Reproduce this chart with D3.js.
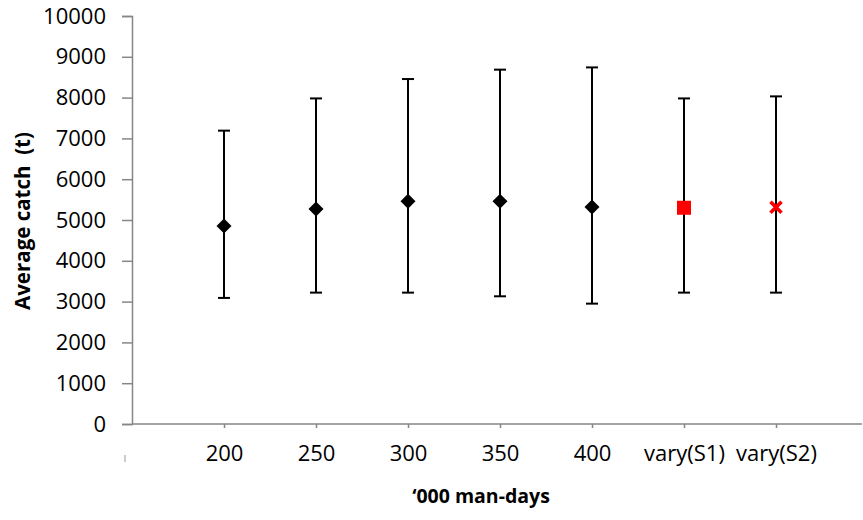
<!DOCTYPE html>
<html>
<head>
<meta charset="utf-8">
<script src="https://cdn.jsdelivr.net/npm/d3@7"></script>
<style>
  body { margin: 0; background: #fff; }
  text { font-family: "Open Sans", "Liberation Sans", sans-serif; }
</style>
</head>
<body>
<svg id="chart" width="863" height="520"></svg>
<script>
// categories along x (first slot is an empty category at the axis)
const categories = ['', '200', '250', '300', '350', '400', 'vary(S1)', 'vary(S2)'];
// average catch and its range, per category (null where empty)
const means = [null, 4850, 5270, 5460, 5460, 5320, 5300, 5310];
const lows  = [null, 3090, 3220, 3220, 3130, 2950, 3220, 3220];
const highs = [null, 7190, 7980, 8455, 8685, 8740, 7980, 8030];
const markers = [null, 'diamond', 'diamond', 'diamond', 'diamond', 'diamond', 'square', 'cross'];
const yTicks = [0, 1000, 2000, 3000, 4000, 5000, 6000, 7000, 8000, 9000, 10000];

const svg = d3.select('#chart');
const margin = {left: 132, top: 16, right: 1, bottom: 96};
const W = 863, H = 520;

const x = d3.scalePoint()
  .domain(categories.map((d, i) => i))
  .range([margin.left, margin.left + 92 * (categories.length - 1)]);
const y = d3.scaleLinear().domain([0, 10000]).range([H - margin.bottom, margin.top]);

const axisColor = '#868686';

// y axis
const yAxis = svg.append('g')
  .attr('transform', `translate(${margin.left},0)`)
  .call(d3.axisLeft(y).tickValues(yTicks).tickSize(10).tickPadding(16).tickFormat(d3.format('d')));
yAxis.select('.domain').attr('stroke', axisColor).attr('stroke-width', 1.5);
yAxis.selectAll('.tick line').attr('stroke', axisColor).attr('stroke-width', 1.5);
yAxis.selectAll('.tick text').attr('font-size', 22).attr('fill', '#000');

// x axis
const xAxis = svg.append('g')
  .attr('transform', `translate(0,${y(0)})`)
  .call(d3.axisBottom(x).tickSize(4).tickSizeOuter(0).tickPadding(17).tickFormat(i => categories[i]));
xAxis.select('.domain').attr('stroke', axisColor).attr('stroke-width', 1.5)
  .attr('d', `M${margin.left},0H${W - 1}`);
xAxis.selectAll('.tick line').attr('stroke', axisColor).attr('stroke-width', 1.5);
xAxis.selectAll('.tick text').attr('font-size', 22).attr('fill', '#000');
// the empty first category leaves only a faint stub
xAxis.selectAll('.tick').filter(i => i === 0).select('line').remove();
svg.append('line')
  .attr('x1', margin.left - 7).attr('x2', margin.left - 7)
  .attr('y1', y(0) + 31).attr('y2', y(0) + 38)
  .attr('stroke', '#bbb').attr('stroke-width', 1.5);

const pts = categories.map((c, i) => ({i, mean: means[i], lo: lows[i], hi: highs[i], m: markers[i]}))
  .filter(d => d.mean != null);

// error bars
const bars = svg.append('g').attr('stroke', '#000').attr('stroke-width', 2);
bars.selectAll('line.v').data(pts).join('line')
  .attr('x1', d => x(d.i)).attr('x2', d => x(d.i))
  .attr('y1', d => y(d.lo)).attr('y2', d => y(d.hi));
bars.selectAll('line.lo').data(pts).join('line')
  .attr('x1', d => x(d.i) - 6).attr('x2', d => x(d.i) + 6)
  .attr('y1', d => y(d.lo)).attr('y2', d => y(d.lo));
bars.selectAll('line.hi').data(pts).join('line')
  .attr('x1', d => x(d.i) - 6).attr('x2', d => x(d.i) + 6)
  .attr('y1', d => y(d.hi)).attr('y2', d => y(d.hi));

// markers
const mk = svg.append('g');
mk.selectAll('path.dia').data(pts.filter(d => d.m === 'diamond')).join('path')
  .attr('d', d => { const cx = x(d.i), cy = y(d.mean), r = 7.5;
    return `M${cx},${cy - r}L${cx + r},${cy}L${cx},${cy + r}L${cx - r},${cy}Z`; })
  .attr('fill', '#000');
mk.selectAll('rect').data(pts.filter(d => d.m === 'square')).join('rect')
  .attr('x', d => x(d.i) - 7).attr('y', d => y(d.mean) - 7)
  .attr('width', 14).attr('height', 14).attr('fill', '#ff0000');
mk.selectAll('path.x').data(pts.filter(d => d.m === 'cross')).join('path')
  .attr('d', d => { const cx = x(d.i), cy = y(d.mean), r = 5.5;
    return `M${cx - r},${cy - r}L${cx + r},${cy + r}M${cx - r},${cy + r}L${cx + r},${cy - r}`; })
  .attr('stroke', '#ff0000').attr('stroke-width', 3.6).attr('fill', 'none');

// titles
svg.append('text')
  .attr('x', 481).attr('y', 503)
  .attr('text-anchor', 'middle').attr('font-size', 19.5).attr('font-weight', 'bold')
  .text('\u2018000 man-days');
svg.append('text')
  .attr('transform', 'translate(30,221) rotate(-90)')
  .attr('text-anchor', 'middle').attr('font-size', 20.5).attr('font-weight', 'bold')
  .attr('xml:space', 'preserve')
  .text('Average catch  (t)');
</script>
</body>
</html>
